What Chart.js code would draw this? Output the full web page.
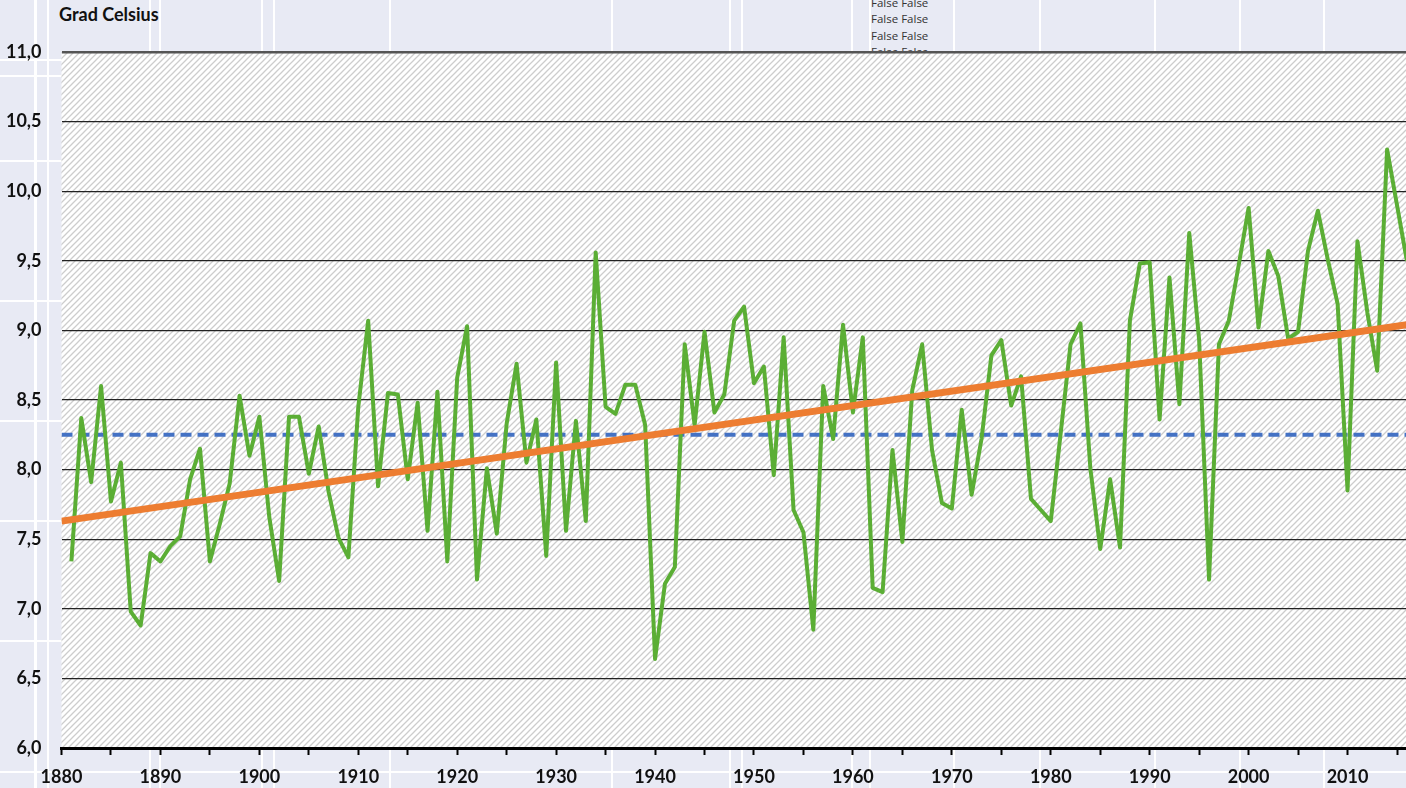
<!DOCTYPE html>
<html>
<head>
<meta charset="utf-8">
<script src="https://cdn.jsdelivr.net/npm/chart.js@4/dist/chart.umd.min.js"></script>
<style>
  html,body{margin:0;padding:0;width:1406px;height:788px;overflow:hidden;}
  body{
    background-color:#e8eaf4;
    background-image:
      linear-gradient(90deg, transparent 34px,#fff 34px,#fff 37px,transparent 37px),
      linear-gradient(90deg, transparent 47px,#fff 47px,#fff 49px,transparent 49px),
      linear-gradient(90deg, transparent 149px,#fff 149px,#fff 151px,transparent 151px),
      linear-gradient(90deg, transparent 159px,#fff 159px,#fff 161px,transparent 161px),
      linear-gradient(90deg, transparent 261px,#fff 261px,#fff 263px,transparent 263px),
      linear-gradient(90deg, transparent 273px,#fff 273px,#fff 275px,transparent 275px),
      linear-gradient(90deg, transparent 389px,#fff 389px,#fff 391px,transparent 391px),
      linear-gradient(90deg, transparent 611px,#fff 611px,#fff 613px,transparent 613px),
      linear-gradient(90deg, transparent 729px,#fff 729px,#fff 731px,transparent 731px),
      linear-gradient(90deg, transparent 741px,#fff 741px,#fff 743px,transparent 743px),
      linear-gradient(90deg, transparent 851px,#fff 851px,#fff 853px,transparent 853px),
      linear-gradient(90deg, transparent 869px,#fff 869px,#fff 871px,transparent 871px),
      linear-gradient(90deg, transparent 953px,#fff 953px,#fff 955px,transparent 955px),
      linear-gradient(90deg, transparent 1039px,#fff 1039px,#fff 1041px,transparent 1041px),
      linear-gradient(90deg, transparent 1154px,#fff 1154px,#fff 1156px,transparent 1156px),
      linear-gradient(90deg, transparent 1239px,#fff 1239px,#fff 1241px,transparent 1241px),
      linear-gradient(90deg, transparent 1323px,#fff 1323px,#fff 1325px,transparent 1325px),
      linear-gradient(180deg, transparent 59px,#fff 59px,#fff 61px,transparent 61px),
      linear-gradient(180deg, transparent 75px,#fff 75px,#fff 77px,transparent 77px),
      linear-gradient(180deg, transparent 160px,#fff 160px,#fff 162px,transparent 162px),
      linear-gradient(180deg, transparent 300px,#fff 300px,#fff 302px,transparent 302px),
      linear-gradient(180deg, transparent 420px,#fff 420px,#fff 422px,transparent 422px),
      linear-gradient(180deg, transparent 520px,#fff 520px,#fff 522px,transparent 522px),
      linear-gradient(180deg, transparent 640px,#fff 640px,#fff 642px,transparent 642px),
      linear-gradient(180deg, transparent 771px,#fff 771px,#fff 773px,transparent 773px);
  }
  #unit{position:absolute;left:59px;top:3px;font:bold 18px Lato,"DejaVu Sans",sans-serif;color:#111;}
  #junk{position:absolute;left:871px;top:-5px;font:11.5px "Open Sans",sans-serif;line-height:16.4px;color:#333;}
  #chart{position:absolute;left:0;top:0;}
</style>
</head>
<body>
<div id="unit">Grad Celsius</div>
<div id="junk">False False<br>False False<br>False False<br>False False</div>
<canvas id="chart" width="1408" height="788"></canvas>
<script>
// Jahresmittel Deutschland
const YEARS = [
  1881,1882,1883,1884,1885,1886,1887,1888,1889,1890,
  1891,1892,1893,1894,1895,1896,1897,1898,1899,1900,
  1901,1902,1903,1904,1905,1906,1907,1908,1909,1910,
  1911,1912,1913,1914,1915,1916,1917,1918,1919,1920,
  1921,1922,1923,1924,1925,1926,1927,1928,1929,1930,
  1931,1932,1933,1934,1935,1936,1937,1938,1939,1940,
  1941,1942,1943,1944,1945,1946,1947,1948,1949,1950,
  1951,1952,1953,1954,1955,1956,1957,1958,1959,1960,
  1961,1962,1963,1964,1965,1966,1967,1968,1969,1970,
  1971,1972,1973,1974,1975,1976,1977,1978,1979,1980,
  1981,1982,1983,1984,1985,1986,1987,1988,1989,1990,
  1991,1992,1993,1994,1995,1996,1997,1998,1999,2000,
  2001,2002,2003,2004,2005,2006,2007,2008,2009,2010,
  2011,2012,2013,2014,2015,2016
];
const TEMPS = [
  7.34,8.37,7.91,8.60,7.77,8.05,6.98,6.88,7.40,7.34,
  7.45,7.52,7.93,8.15,7.34,7.61,7.90,8.53,8.10,8.38,
  7.66,7.20,8.38,8.38,7.97,8.31,7.84,7.51,7.37,8.45,
  9.07,7.88,8.55,8.54,7.93,8.48,7.56,8.56,7.34,8.66,
  9.03,7.21,8.01,7.54,8.33,8.76,8.05,8.36,7.38,8.77,
  7.56,8.35,7.63,9.56,8.45,8.40,8.61,8.61,8.32,6.64,
  7.18,7.30,8.90,8.32,8.99,8.41,8.54,9.07,9.17,8.62,
  8.74,7.96,8.95,7.71,7.55,6.85,8.60,8.22,9.04,8.41,
  8.95,7.15,7.12,8.14,7.48,8.57,8.90,8.14,7.76,7.72,
  8.43,7.82,8.22,8.82,8.93,8.46,8.67,7.79,7.71,7.63,
  8.26,8.90,9.05,8.01,7.43,7.93,7.44,9.07,9.48,9.49,
  8.36,9.38,8.47,9.70,8.93,7.21,8.90,9.07,9.47,9.88,
  9.02,9.57,9.39,8.94,8.99,9.57,9.86,9.51,9.19,7.85,
  9.64,9.13,8.71,10.30,9.90,9.50
];
// Trendlinie und Mittelwert (Endpunkte)
const TREND_YEARS = [1880, 2016];
const TREND_VALUES = [7.63, 9.04];
const MEAN_YEARS = [1880, 2016];
const MEAN_VALUES = [8.25, 8.25];
// Achsen
const X_TICKS = [1880,1885,1890,1895,1900,1905,1910,1915,1920,1925,1930,1935,1940,1945,1950,1955,1960,1965,1970,1975,1980,1985,1990,1995,2000,2005,2010,2015];
const X_LABELS = [1880,1890,1900,1910,1920,1930,1940,1950,1960,1970,1980,1990,2000,2010];

const pts = (xs, ys) => xs.map((x,i)=>({x:x, y:ys[i]}));

const hatchBg = {
  id:'hatchBg',
  beforeDraw(chart){
    const {ctx, chartArea:a} = chart;
    const s = 6;
    const p = document.createElement('canvas');
    p.width = s; p.height = s;
    const pc = p.getContext('2d');
    pc.fillStyle = '#ffffff';
    pc.fillRect(0,0,s,s);
    pc.strokeStyle = '#cdcdcd';
    pc.lineWidth = 1.3;
    pc.beginPath();
    pc.moveTo(0,s); pc.lineTo(s,0);
    pc.moveTo(-1,1); pc.lineTo(1,-1);
    pc.moveTo(s-1,s+1); pc.lineTo(s+1,s-1);
    pc.stroke();
    ctx.save();
    ctx.fillStyle = ctx.createPattern(p,'repeat');
    ctx.fillRect(a.left, a.top, a.right-a.left, a.bottom-a.top);
    ctx.restore();
  }
};

const tickFont = {family:'Lato', size:18, weight:'bold'};

new Chart(document.getElementById('chart'), {
  type:'line',
  data:{
    datasets:[
      {label:'Trend', data:pts(TREND_YEARS, TREND_VALUES), borderColor:'#ed7d31', borderWidth:7, pointRadius:0, order:0},
      {label:'Temperatur', data:pts(YEARS, TEMPS), borderColor:'#5bae35', borderWidth:4, borderJoinStyle:'round', pointRadius:0, tension:0, order:1},
      {label:'Mittel', data:pts(MEAN_YEARS, MEAN_VALUES), borderColor:'#4472c4', borderWidth:4, borderDash:[11,6], pointRadius:0, order:2}
    ]
  },
  options:{
    responsive:false,
    animation:false,
    layout:{padding:{top:52, left:0, right:0, bottom:0}},
    plugins:{legend:{display:false}, tooltip:{enabled:false}},
    scales:{
      x:{
        type:'linear', min:1880, max:2016,
        afterFit(scale){ scale.height = 40; },
        afterBuildTicks(scale){ scale.ticks = X_TICKS.map(v=>({value:v})); },
        border:{display:true, color:'#000', width:3},
        grid:{display:true, drawOnChartArea:false, drawTicks:true, tickLength:7, tickWidth:2, tickColor:'#000'},
        ticks:{
          autoSkip:false, maxRotation:0, padding:11, color:'#111', font:tickFont,
          callback:v => X_LABELS.includes(v) ? String(v) : ''
        }
      },
      y:{
        min:6, max:11,
        afterFit(scale){ scale.width = 61.5; },
        border:{display:false},
        grid:{
          drawTicks:false,
          color:c => c.tick && c.tick.value === 11 ? '#555' : '#222',
          lineWidth:c => c.tick && c.tick.value === 11 ? 2.5 : 1.2
        },
        ticks:{
          stepSize:0.5, padding:20, color:'#111', font:tickFont,
          callback:v => v.toFixed(1).replace('.', ',')
        }
      }
    }
  },
  plugins:[hatchBg]
});
</script>
</body>
</html>
